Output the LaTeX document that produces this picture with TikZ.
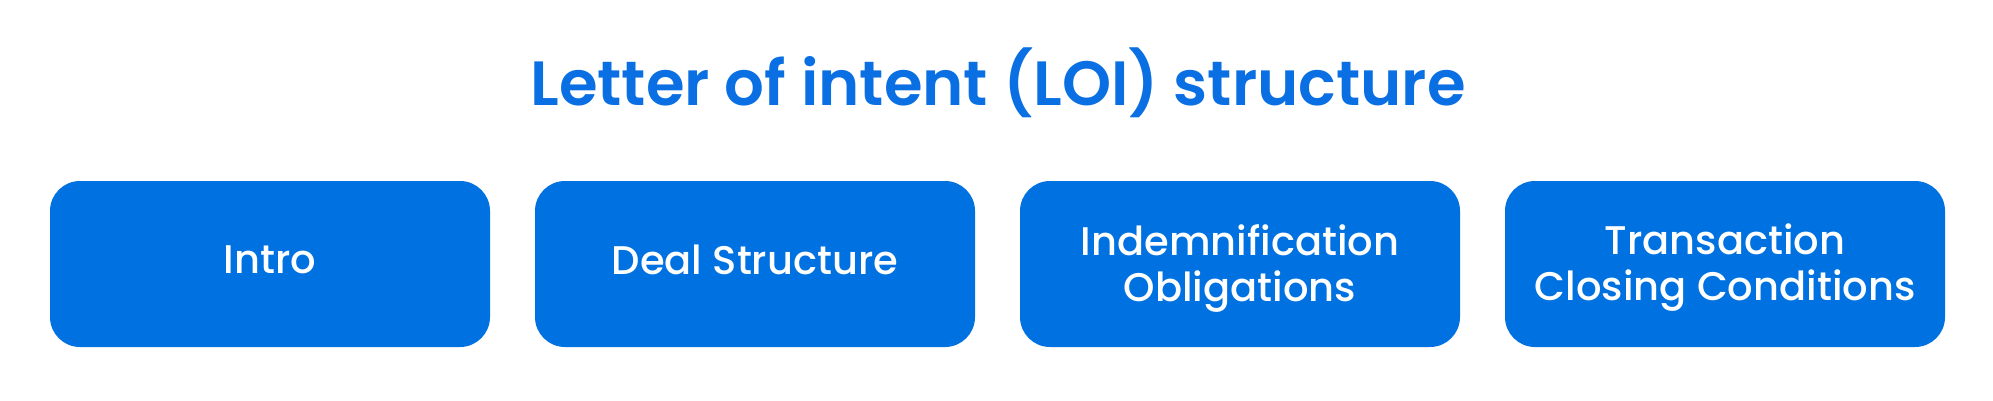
\documentclass[tikz,border=0pt]{standalone}
\usepackage{fontspec}
\setmainfont{Poppins}
\newfontfamily\titlefont{Poppins SemiBold}
\newfontfamily\boxfont{Poppins Medium}
\definecolor{boxblue}{HTML}{0071E1}
\definecolor{titleblue}{HTML}{0A6FE2}
\begin{document}
\begin{tikzpicture}[x=1pt,y=-1pt,
  card/.style={fill=boxblue, draw=none, rounded corners=30pt, minimum width=440pt, minimum height=166pt, inner sep=0pt},
  cardtext/.style={text=white, align=center, inner sep=0pt, font=\boxfont\fontsize{40}{46}\selectfont},
  heading/.style={text=titleblue, anchor=base, inner sep=0pt, font=\titlefont\fontsize{62.5}{72}\selectfont}]
\fill[white] (0,0) rectangle (1993,400);
\useasboundingbox (0,0) rectangle (1993,400);
\node[heading] (title) at (998,105) {Letter of intent (LOI) structure};
\node[card] (b1) at (270,264) {};
\node[card] (b2) at (755,264) {};
\node[card] (b3) at (1240,264) {};
\node[card] (b4) at (1725,264) {};
\node[cardtext] (t1) at ([yshift=4pt]b1.center) {Intro};
\node[cardtext] (t2) at ([yshift=4pt]b2.center) {Deal Structure};
\node[cardtext] (t3) at ([yshift=-4pt]b3.center) {Indemnification\\Obligations};
\node[cardtext] (t4) at ([yshift=-4pt]b4.center) {Transaction\\Closing Conditions};
\end{tikzpicture}
\end{document}
